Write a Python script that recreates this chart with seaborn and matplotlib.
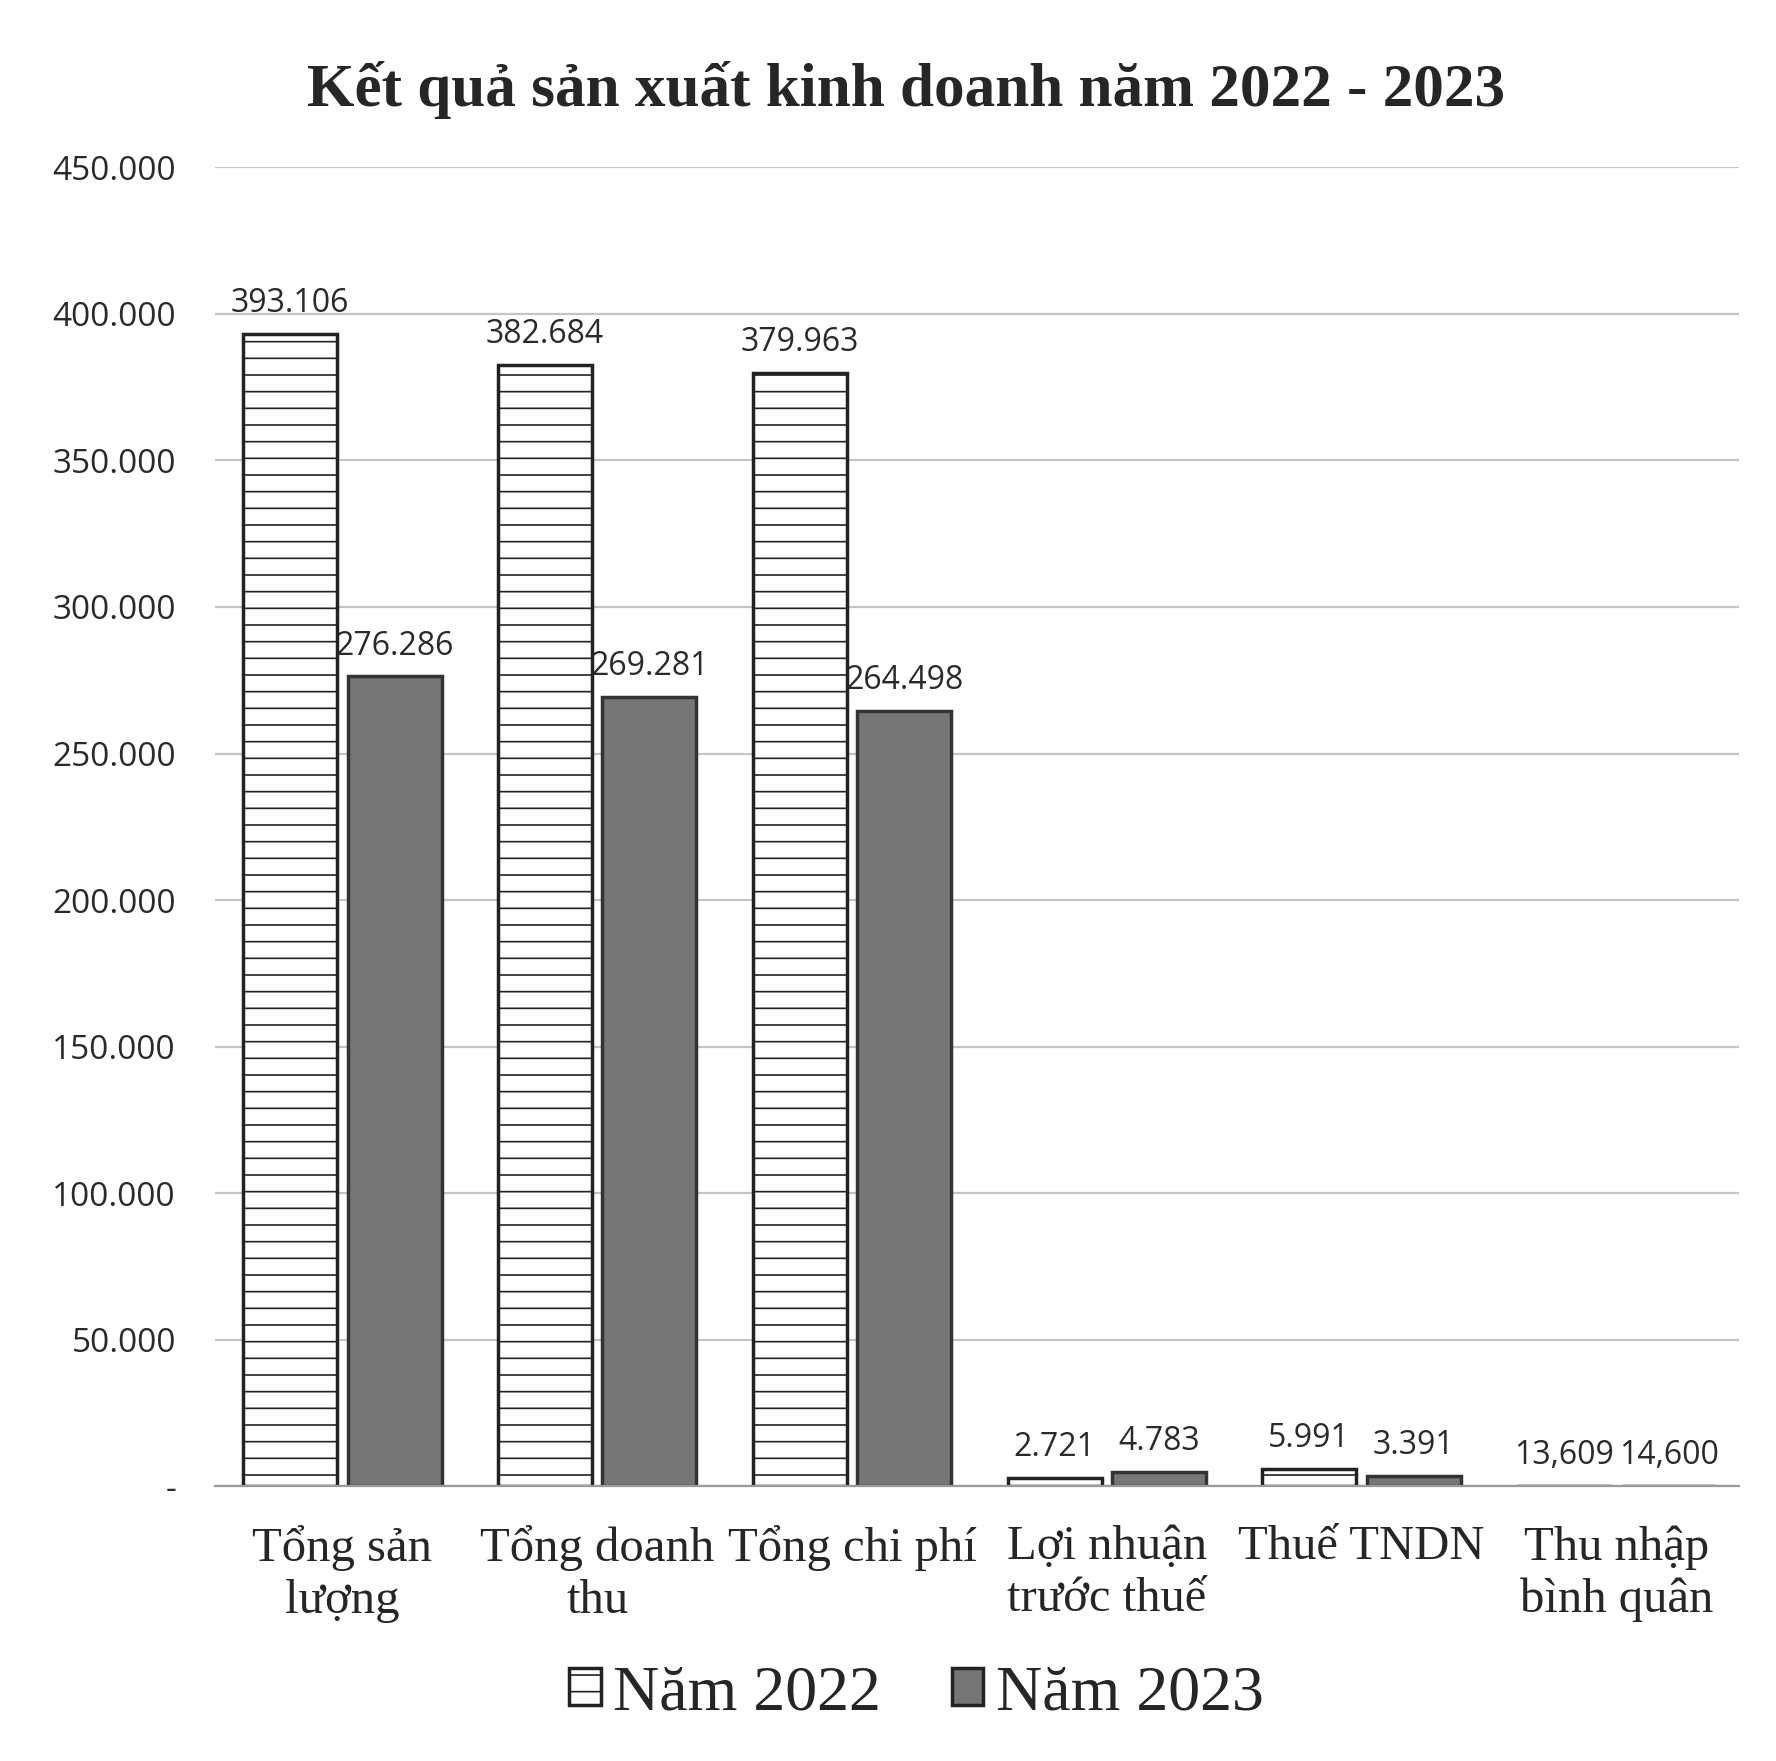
import pandas as pd
import matplotlib.pyplot as plt
import seaborn as sns

# Data (dot = thousands separator, comma = decimal in the source)
categories = ['Tổng sản\nlượng', 'Tổng doanh\nthu', 'Tổng chi phí',
              'Lợi nhuận\ntrước thuế', 'Thuế TNDN', 'Thu nhập\nbình quân']
values_2022 = [393106, 382684, 379963, 2721, 5991, 13.609]
values_2023 = [276286, 269281, 264498, 4783, 3391, 14.600]
labels_2022 = ['393.106', '382.684', '379.963', '2.721', '5.991', '13,609']
labels_2023 = ['276.286', '269.281', '264.498', '4.783', '3.391', '14,600']
series = ['Năm 2022', 'Năm 2023']
y_ticks = [0, 50000, 100000, 150000, 200000, 250000, 300000, 350000, 400000, 450000]
y_ticklabels = ['-', '50.000', '100.000', '150.000', '200.000', '250.000',
                '300.000', '350.000', '400.000', '450.000']

df = pd.DataFrame({
    'cat': categories * 2,
    'value': values_2022 + values_2023,
    'year': [series[0]] * 6 + [series[1]] * 6,
})

sns.set_style('white')
plt.rcParams['hatch.linewidth'] = 1.2
serif = 'Liberation Serif'
sans = 'Open Sans'

fig = plt.figure(figsize=(17.76, 17.61), dpi=100)
ax = fig.add_axes([0.121, 0.156, 0.858, 0.749])

sns.barplot(data=df, x='cat', y='value', hue='year', palette=['white', '#767676'],
            width=0.82, gap=0.1, edgecolor='#222222', linewidth=2.5, ax=ax)

# dashed texture for 2022, keep 2023 solid grey
for p in ax.containers[0]:
    p.set_hatch('-')
for p in ax.containers[1]:
    p.set_edgecolor('#333333')

ax.bar_label(ax.containers[0], labels=labels_2022, padding=10,
             fontsize=23, family=sans, color='#2a2a2a')
ax.bar_label(ax.containers[1], labels=labels_2023, padding=10,
             fontsize=23, family=sans, color='#2a2a2a')

ax.set_ylim(0, 450000)
ax.set_xlim(-0.5, 5.48)
ax.set_yticks(y_ticks)
ax.set_yticklabels(y_ticklabels, fontsize=24, family=sans, color='#2a2a2a')
ax.yaxis.grid(True, color='#c4c4c4', linewidth=1.6)
ax.set_axisbelow(True)
ax.tick_params(axis='y', length=0, pad=28)
ax.tick_params(axis='x', length=0, pad=28)
for lbl in ax.get_xticklabels():
    lbl.set_fontsize(35)
    lbl.set_family(serif)
    lbl.set_linespacing(1.22)
ax.set_xlabel('')
ax.set_ylabel('')
sns.despine(ax=ax, left=True)
ax.spines['bottom'].set_color('#9a9a9a')
ax.spines['bottom'].set_linewidth(1.6)

fig.text(0.51, 0.949, 'Kết quả sản xuất kinh doanh năm 2022 - 2023',
         ha='center', va='center', fontsize=44, fontweight='bold', family=serif)

handles, _ = ax.get_legend_handles_labels()
ax.legend_.remove()
handles[0].set_hatch('-')
leg = fig.legend(handles, series, loc='center', bbox_to_anchor=(0.516, 0.038), ncol=2,
                 frameon=False, prop={'family': serif, 'size': 46},
                 handlelength=0.5, handleheight=0.5, handletextpad=0.2, columnspacing=1.1)

fig.savefig('out.png', dpi=100)
